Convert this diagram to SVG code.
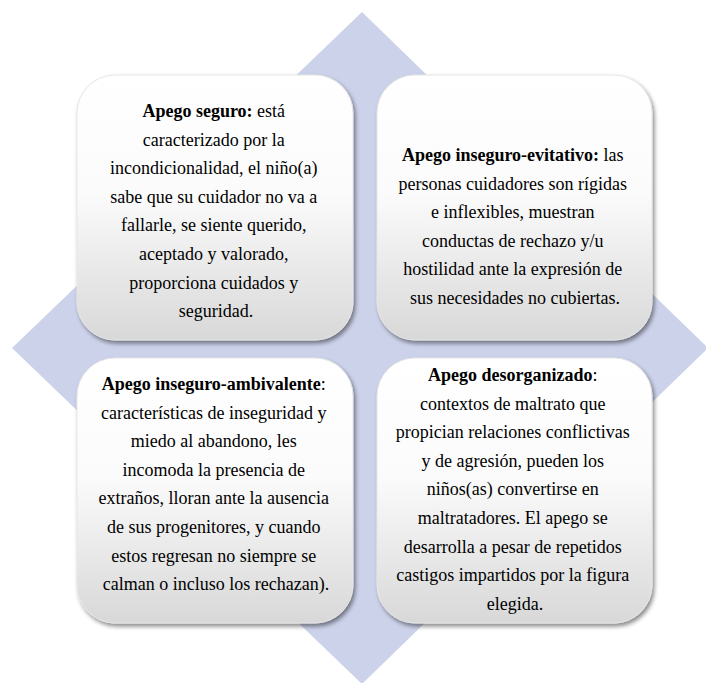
<svg xmlns="http://www.w3.org/2000/svg" width="706" height="683" viewBox="0 0 706 683">
  <defs>
    <linearGradient id="boxGrad" x1="0" y1="0" x2="0" y2="1">
      <stop offset="0" stop-color="#ffffff"/>
      <stop offset="0.45" stop-color="#fbfbfb"/>
      <stop offset="1" stop-color="#d8d8d8"/>
    </linearGradient>
    <filter id="shadow" x="-10%" y="-10%" width="125%" height="125%">
      <feDropShadow dx="2" dy="3" stdDeviation="2" flood-color="#000" flood-opacity="0.45"/>
    </filter>
  </defs>
  <style>
    .box { fill: url(#boxGrad); stroke: #e6e6e6; stroke-width: 1; filter: url(#shadow); }
    .txt { font-size: 18px; fill: #000; text-anchor: middle; }
    .b { font-weight: bold; }
  </style>
  <rect width="706" height="683" fill="#ffffff"/>
  <polygon id="diamond" points="362,12 708,348 362,684 12,348" fill="#ccd2ea"/>
  <g id="connectors"/>

  <g id="apego-seguro">
    <rect class="box" x="77" y="75" width="276" height="265" rx="38" ry="38"/>
    <text class="txt" font-family="'Liberation Serif', 'Times New Roman', Times, serif">
      <tspan x="216" y="117"><tspan class="b">Apego seguro:</tspan> está</tspan>
      <tspan x="216" y="145.6">caracterizado por la</tspan>
      <tspan x="216" y="174.2">incondicionalidad, el niño(a)</tspan>
      <tspan x="216" y="202.8">sabe que su cuidador no va a</tspan>
      <tspan x="216" y="231.4">fallarle, se siente querido,</tspan>
      <tspan x="216" y="260">aceptado y valorado,</tspan>
      <tspan x="216" y="288.6">proporciona cuidados y</tspan>
      <tspan x="216" y="317.2">seguridad.</tspan>
    </text>
  </g>

  <g id="apego-evitativo">
    <rect class="box" x="377" y="75" width="275" height="265" rx="38" ry="38"/>
    <text class="txt" font-family="'Liberation Serif', 'Times New Roman', Times, serif">
      <tspan x="515" y="161"><tspan class="b">Apego inseguro-evitativo:</tspan> las</tspan>
      <tspan x="515" y="189.6">personas cuidadores son rígidas</tspan>
      <tspan x="515" y="218.2">e inflexibles, muestran</tspan>
      <tspan x="515" y="246.8">conductas de rechazo y/u</tspan>
      <tspan x="515" y="275.4">hostilidad ante la expresión de</tspan>
      <tspan x="515" y="304">sus necesidades no cubiertas.</tspan>
    </text>
  </g>

  <g id="apego-ambivalente">
    <rect class="box" x="77" y="358" width="276" height="265" rx="38" ry="38"/>
    <text class="txt" font-family="'Liberation Serif', 'Times New Roman', Times, serif">
      <tspan x="216" y="390"><tspan class="b">Apego inseguro-ambivalente</tspan>:</tspan>
      <tspan x="216" y="418.6">características de inseguridad y</tspan>
      <tspan x="216" y="447.2">miedo al abandono, les</tspan>
      <tspan x="216" y="475.8">incomoda la presencia de</tspan>
      <tspan x="216" y="504.4">extraños, lloran ante la ausencia</tspan>
      <tspan x="216" y="533">de sus progenitores, y cuando</tspan>
      <tspan x="216" y="561.6">estos regresan no siempre se</tspan>
      <tspan x="216" y="590.2">calman o incluso los rechazan).</tspan>
    </text>
  </g>

  <g id="apego-desorganizado">
    <rect class="box" x="377" y="358" width="275" height="265" rx="38" ry="38"/>
    <text class="txt" font-family="'Liberation Serif', 'Times New Roman', Times, serif">
      <tspan x="515" y="381"><tspan class="b">Apego desorganizado</tspan>:</tspan>
      <tspan x="515" y="409.6">contextos de maltrato que</tspan>
      <tspan x="515" y="438.2">propician relaciones conflictivas</tspan>
      <tspan x="515" y="466.8">y de agresión, pueden los</tspan>
      <tspan x="515" y="495.4">niños(as) convertirse en</tspan>
      <tspan x="515" y="524">maltratadores. El apego se</tspan>
      <tspan x="515" y="552.6">desarrolla a pesar de repetidos</tspan>
      <tspan x="515" y="581.2">castigos impartidos por la figura</tspan>
      <tspan x="515" y="609.8">elegida.</tspan>
    </text>
  </g>
</svg>
